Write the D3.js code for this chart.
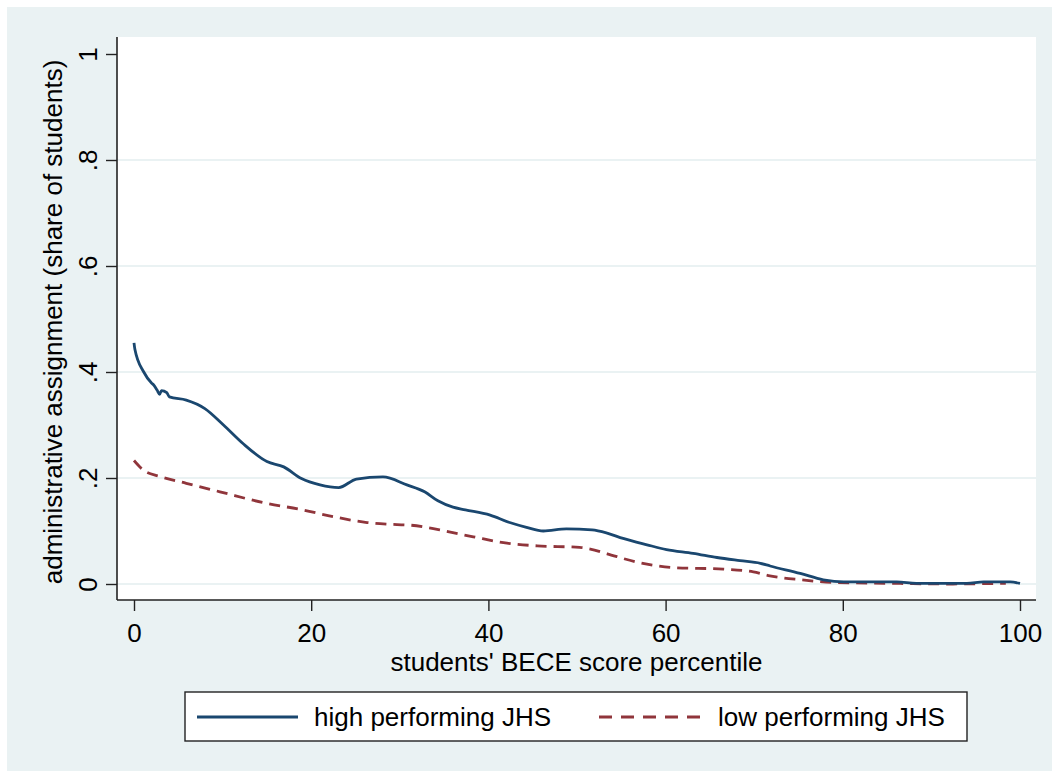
<!DOCTYPE html>
<html>
<head>
<meta charset="utf-8">
<script src="https://cdn.jsdelivr.net/npm/d3@7"></script>
<style>
  body { margin: 0; background: #fff; }
  text { font-family: "Liberation Sans", Arial, sans-serif; fill: #000; }
</style>
</head>
<body>
<svg id="chart" width="1052" height="771"></svg>
<script>
// data
var highX = [0, 0.1, 1.1, 2.0, 2.2, 2.6, 2.9, 3.1, 3.7, 4.0, 5.9, 8.0, 10.1, 12.3, 15.0, 16.9, 18.9, 21.0, 23.1, 25.1, 28.1, 30.8, 32.8, 34.3, 36.0, 37.4, 40.2, 42.4, 44.3, 46.2, 48.8, 51.7, 53.4, 55.2, 57.9, 60.1, 63.1, 65.8, 68.4, 70.7, 71.8, 75.2, 77.8, 80.1, 86.1, 88.3, 94.0, 95.9, 98.9, 100];
var highY = [0.455, 0.443, 0.400, 0.379, 0.376, 0.366, 0.358, 0.365, 0.361, 0.353, 0.347, 0.331, 0.300, 0.265, 0.231, 0.221, 0.199, 0.187, 0.182, 0.198, 0.202, 0.187, 0.174, 0.157, 0.145, 0.140, 0.130, 0.116, 0.107, 0.100, 0.104, 0.102, 0.096, 0.086, 0.074, 0.065, 0.058, 0.050, 0.044, 0.039, 0.034, 0.020, 0.008, 0.004, 0.004, 0.001, 0.001, 0.004, 0.004, 0.001];
var lowX = [0, 1.05, 2.9, 5.9, 9.7, 15.0, 18.7, 22.5, 26.3, 28.5, 31.2, 34.5, 38.3, 42.1, 45.5, 50.3, 51.5, 53.4, 57.1, 60.9, 66.5, 69.9, 71.6, 75.2, 78.9, 86.5, 92.1, 97.7, 98.4];
var lowY = [0.233, 0.215, 0.203, 0.190, 0.174, 0.152, 0.141, 0.127, 0.116, 0.113, 0.111, 0.102, 0.089, 0.077, 0.072, 0.069, 0.066, 0.057, 0.040, 0.031, 0.028, 0.023, 0.016, 0.008, 0.003, 0.001, 0.000, 0.001, 0.001];
var xTicks = [0, 20, 40, 60, 80, 100];
var yTicks = [0, 0.2, 0.4, 0.6, 0.8, 1];
var yTickLabels = ["0", ".2", ".4", ".6", ".8", "1"];
var gridVals = [0, 0.2, 0.4, 0.6, 0.8];
var seriesNames = ["high performing JHS", "low performing JHS"];
var seriesColors = ["#1a476f", "#90353b"];

var svg = d3.select('#chart');
var bg = "#eaf2f3";

svg.append('rect').attr('x', 7).attr('y', 7).attr('width', 1045).attr('height', 764).attr('fill', bg);

var plotLeft = 117, plotRight = 1036, plotTop = 37, plotBottom = 600;
svg.append('rect').attr('x', plotLeft).attr('y', plotTop).attr('width', plotRight - plotLeft).attr('height', plotBottom - plotTop).attr('fill', '#fff');

var x = d3.scaleLinear().domain([0, 100]).range([134, 1020]);
var y = d3.scaleLinear().domain([0, 1]).range([584, 54]);

// gridlines
svg.append('g').selectAll('line').data(gridVals).enter().append('line')
    .attr('x1', plotLeft).attr('x2', plotRight)
    .attr('y1', function (d) { return y(d); }).attr('y2', function (d) { return y(d); })
    .attr('stroke', bg).attr('stroke-width', 2);

// axes
var xAxis = d3.axisBottom(x).tickValues(xTicks).tickSize(11).tickFormat(d3.format('d'));
var gx = svg.append('g').attr('transform', 'translate(0,' + plotBottom + ')').call(xAxis);
gx.select('.domain').remove();
gx.append('line').attr('x1', plotLeft).attr('x2', plotRight).attr('y1', 0).attr('y2', 0).attr('stroke', '#222').attr('stroke-width', 1.6);
gx.selectAll('.tick line').attr('stroke', '#222').attr('stroke-width', 1.4);
gx.selectAll('.tick text').attr('font-size', 26).attr('y', 42).attr('dy', 0)
    .attr('font-family', '"Liberation Sans", Arial, sans-serif').attr('fill', '#000');

var yAxis = d3.axisLeft(y).tickValues(yTicks).tickSize(11).tickFormat(function (d, i) { return yTickLabels[i]; });
var gy = svg.append('g').attr('transform', 'translate(' + plotLeft + ',0)').call(yAxis);
gy.select('.domain').remove();
gy.append('line').attr('x1', 0).attr('x2', 0).attr('y1', plotTop).attr('y2', plotBottom).attr('stroke', '#222').attr('stroke-width', 1.6);
gy.selectAll('.tick line').attr('stroke', '#222').attr('stroke-width', 1.4);
gy.selectAll('.tick text').attr('font-size', 26).attr('x', null).attr('dy', 0)
    .attr('text-anchor', 'middle')
    .attr('font-family', '"Liberation Sans", Arial, sans-serif').attr('fill', '#000')
    .attr('transform', 'translate(-20,0) rotate(-90)');

// axis titles
svg.append('text').attr('x', (plotLeft + plotRight) / 2).attr('y', 671).attr('text-anchor', 'middle')
    .attr('font-size', 26).text("students' BECE score percentile");
svg.append('text').attr('transform', 'translate(62,' + (y(0.5) + 3) + ') rotate(-90)').attr('text-anchor', 'middle')
    .attr('font-size', 26).text('administrative assignment (share of students)');

// lines
var line = d3.line().x(function (d) { return x(d[0]); }).y(function (d) { return y(d[1]); }).curve(d3.curveMonotoneX);
var highPts = highX.map(function (v, i) { return [v, highY[i]]; });
var lowPts = lowX.map(function (v, i) { return [v, lowY[i]]; });

svg.append('path').datum(lowPts).attr('d', line).attr('fill', 'none')
    .attr('stroke', seriesColors[1]).attr('stroke-width', 2.8).attr('stroke-dasharray', '11,7');
svg.append('path').datum(highPts).attr('d', line).attr('fill', 'none')
    .attr('stroke', seriesColors[0]).attr('stroke-width', 2.8);

// legend
var leg = svg.append('g');
leg.append('rect').attr('x', 185).attr('y', 692).attr('width', 782).attr('height', 49)
    .attr('fill', '#fff').attr('stroke', '#222').attr('stroke-width', 1.4);
leg.append('line').attr('x1', 197).attr('x2', 298).attr('y1', 717).attr('y2', 717)
    .attr('stroke', seriesColors[0]).attr('stroke-width', 2.8);
leg.append('text').attr('x', 314).attr('y', 726).attr('font-size', 26).text(seriesNames[0]);
leg.append('line').attr('x1', 599).attr('x2', 701).attr('y1', 717).attr('y2', 717)
    .attr('stroke', seriesColors[1]).attr('stroke-width', 2.8).attr('stroke-dasharray', '13,9');
leg.append('text').attr('x', 718).attr('y', 726).attr('font-size', 26).text(seriesNames[1]);
</script>
</body>
</html>
